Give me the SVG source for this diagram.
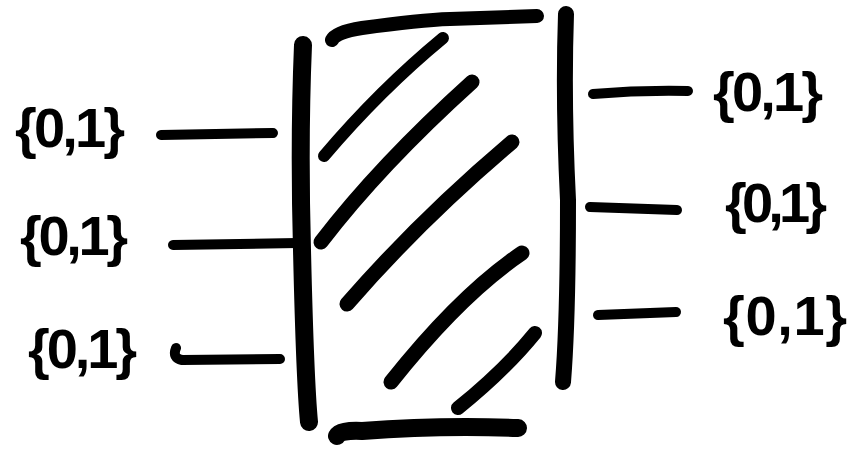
<svg xmlns="http://www.w3.org/2000/svg" width="856" height="456" viewBox="0 0 856 456">
<style>
.s{fill:none;stroke:#000;stroke-linecap:round;stroke-linejoin:round}
.t{font-family:"Liberation Sans",Arial,sans-serif;font-weight:bold;font-size:56px;fill:#000}
</style>
<rect width="856" height="456" fill="#fff"/>
<g id="box">
<path class="s" stroke-width="18" d="M303,45 Q299,140 302,250 Q305,380 309,422"/>
<path class="s" stroke-width="14" d="M332,40 Q336,32 362,28 Q420,20 450,19 L537,16"/>
<path class="s" stroke-width="16" d="M566,14 Q563,100 568,200 Q568,320 563,382"/>
<path class="s" stroke-width="18" d="M337,436 Q340,430 362,431 Q440,425 518,428"/>
<path class="s" stroke-width="12" d="M324,156 Q380,90 443,38"/>
<path class="s" stroke-width="15" d="M321,242 Q380,165 472,82"/>
<path class="s" stroke-width="15" d="M347,304 Q420,220 512,142"/>
<path class="s" stroke-width="15" d="M391,382 Q460,295 522,253"/>
<path class="s" stroke-width="14" d="M458,408 Q505,370 535,333"/>
</g>
<g id="connectors">
<path class="s" stroke-width="10" d="M161,135 L273,133"/>
<path class="s" stroke-width="10" d="M173,245 L297,243"/>
<path class="s" stroke-width="10" d="M176,348 Q172,358 182,360 L280,359"/>
<path class="s" stroke-width="10" d="M593,94 Q640,90 688,91"/>
<path class="s" stroke-width="10" d="M590,207 L677,210"/>
<path class="s" stroke-width="10" d="M598,315 L676,312"/>
</g>
<g id="in1"><text class="t" x="15" y="147" textLength="110" lengthAdjust="spacing">{0,1}</text></g>
<g id="in2"><text class="t" x="20" y="255" textLength="108" lengthAdjust="spacing">{0,1}</text></g>
<g id="in3"><text class="t" x="28" y="368" textLength="109" lengthAdjust="spacing">{0,1}</text></g>
<g id="out1"><text class="t" x="713" y="111" textLength="110" lengthAdjust="spacing">{0,1}</text></g>
<g id="out2"><text class="t" x="725" y="222" textLength="102" lengthAdjust="spacing">{0,1}</text></g>
<g id="out3"><text class="t" x="723" y="335" textLength="124" lengthAdjust="spacing">{0,1}</text></g>
</svg>
